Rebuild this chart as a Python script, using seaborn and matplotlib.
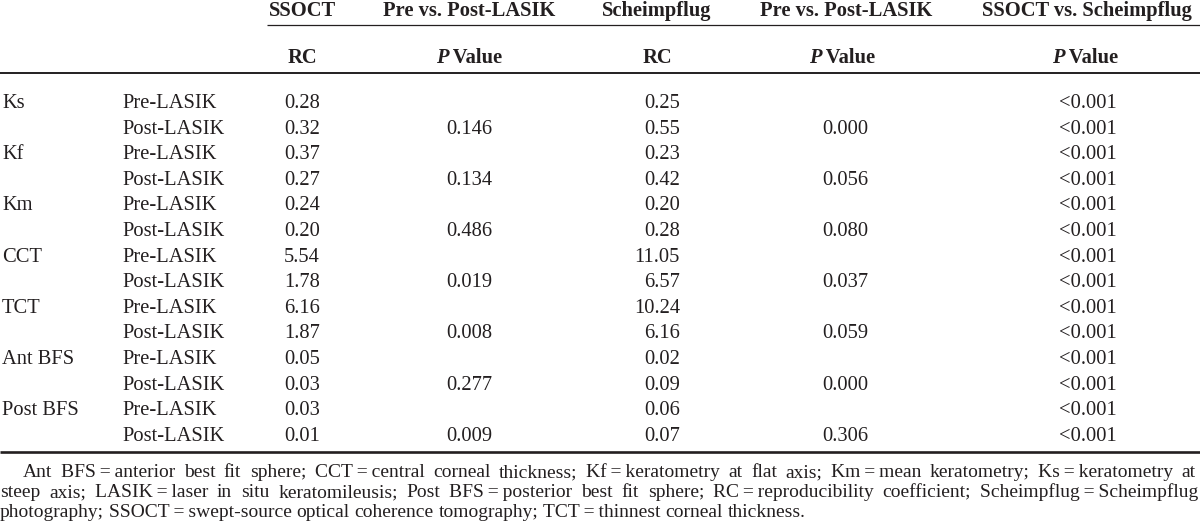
import matplotlib
matplotlib.use("Agg")
import matplotlib.pyplot as plt
import seaborn as sns
import pandas as pd

# ---------------- data ----------------
parameters = ["Ks", "Kf", "Km", "CCT", "TCT", "Ant BFS", "Post BFS"]
states = ["Pre-LASIK", "Post-LASIK"]
ssoct_rc = [0.28, 0.32, 0.37, 0.27, 0.24, 0.20, 5.54, 1.78, 6.16, 1.87, 0.05, 0.03, 0.03, 0.01]
ssoct_p = ["0.146", "0.134", "0.486", "0.019", "0.008", "0.277", "0.009"]
scheim_rc = [0.25, 0.55, 0.23, 0.42, 0.20, 0.28, 11.05, 6.57, 10.24, 6.16, 0.02, 0.09, 0.06, 0.07]
scheim_p = ["0.000", "0.056", "0.080", "0.037", "0.059", "0.000", "0.306"]
compare_p = ["<0.001", "<0.001", "<0.001", "<0.001", "<0.001", "<0.001", "<0.001",
             "<0.001", "<0.001", "<0.001", "<0.001", "<0.001", "<0.001", "<0.001"]
header_top = ["SSOCT", "Pre vs. Post-LASIK", "Scheimpflug", "Pre vs. Post-LASIK", "SSOCT vs. Scheimpflug"]
header_sub = ["RC", "P Value", "RC", "P Value", "P Value"]
footnote = [
    "Ant BFS\u2009=\u2009anterior best fit sphere; CCT\u2009=\u2009central corneal thickness; "
    "Kf\u2009=\u2009keratometry at flat axis; Km\u2009=\u2009mean keratometry; Ks\u2009=\u2009keratometry at",
    "steep axis; LASIK\u2009=\u2009laser in situ keratomileusis; Post BFS\u2009=\u2009posterior best fit sphere; "
    "RC\u2009=\u2009reproducibility coefficient; Scheimpflug\u2009=\u2009Scheimpflug",
    "photography; SSOCT\u2009=\u2009swept-source optical coherence tomography; TCT\u2009=\u2009thinnest corneal thickness.",
]

rows = []
for i, p in enumerate(parameters):
    for j, s in enumerate(states):
        k = 2 * i + j
        rows.append({
            "param": p if j == 0 else "",
            "state": s,
            "ssoct_rc": f"{ssoct_rc[k]:.2f}",
            "ssoct_p": ssoct_p[i] if j == 1 else "",
            "scheim_rc": f"{scheim_rc[k]:.2f}",
            "scheim_p": scheim_p[i] if j == 1 else "",
            "cmp_p": compare_p[k],
        })
df = pd.DataFrame(rows)

# ---------------- style ----------------
sns.set_theme(style="white")
plt.rcParams["font.family"] = ["Liberation Serif", "DejaVu Serif"]
INK = "#231f20"
PX = 72.0 / 100.0          # points per pixel at dpi=100
FS = 20.5 * PX             # table font size
FS_NOTE = 19.5 * PX        # footnote font size

fig = plt.figure(figsize=(12, 5.31), dpi=100)
ax = fig.add_axes([0, 0, 1, 1])
ax.set_xlim(0, 1200)
ax.set_ylim(531, 0)
ax.axis("off")
renderer = fig.canvas.get_renderer()


def width_of(s, **kw):
    t = ax.text(0, 0, s, **kw)
    w = t.get_window_extent(renderer).width
    t.remove()
    return w


def segments_centered(xc, y, segs, fs):
    total = sum(width_of(s, fontsize=fs, **kw) for s, kw in segs)
    x = xc - total / 2
    for s, kw in segs:
        ax.text(x, y, s, fontsize=fs, ha="left", va="baseline", color=INK, **kw)
        x += width_of(s, fontsize=fs, **kw)


col_centers = [302, 469, 657, 846, 1087]
sub_centers = [302, 469, 657, 842, 1085]
y_head1, y_head2 = 16, 63
y_row0, row_step = 108, 25.6

bold = {"fontweight": "bold"}
bolditalic = {"fontweight": "bold", "fontstyle": "italic"}
for xc, h in zip(col_centers, header_top):
    ax.text(xc, y_head1, h, fontsize=FS, ha="center", va="baseline", color=INK, **bold)
for xc, h in zip(sub_centers, header_sub):
    if h.startswith("P "):
        segments_centered(xc, y_head2, [("P", bolditalic), (" Value", bold)], FS)
    else:
        ax.text(xc, y_head2, h, fontsize=FS, ha="center", va="baseline", color=INK, **bold)

# rules
ax.plot([267, 1200], [25, 25], color=INK, lw=0.9, solid_capstyle="butt")
ax.plot([0, 1200], [72.5, 72.5], color=INK, lw=1.4, solid_capstyle="butt")
ax.plot([0, 1200], [452, 452], color=INK, lw=1.9, solid_capstyle="butt")

# body
for r, row in df.iterrows():
    y = y_row0 + r * row_step
    kw = dict(fontsize=FS, va="baseline", color=INK)
    ax.text(2, y, row["param"], ha="left", **kw)
    ax.text(122, y, row["state"], ha="left", **kw)
    ax.text(320, y, row["ssoct_rc"], ha="right", **kw)
    ax.text(469, y, row["ssoct_p"], ha="center", **kw)
    ax.text(680, y, row["scheim_rc"], ha="right", **kw)
    ax.text(845, y, row["scheim_p"], ha="center", **kw)
    ax.text(1088, y, row["cmp_p"], ha="center", **kw)


# footnote (justified, measured on whole-line prefixes)
def justified(line, x0, x1, y, fs, justify=True):
    words = line.split(" ")
    natural = width_of(line, fontsize=fs)
    extra = (x1 - x0 - natural) / (len(words) - 1) if justify else 0.0
    for i, w in enumerate(words):
        prefix = " ".join(words[:i]) + (" " if i else "")
        x = x0 + (width_of(prefix + "x", fontsize=fs) - width_of("x", fontsize=fs) if i else 0) + i * extra
        ax.text(x, y, w, fontsize=fs, ha="left", va="baseline", color=INK)


justified(footnote[0], 23, 1196, 477, FS_NOTE)
justified(footnote[1], 0, 1198, 497, FS_NOTE)
justified(footnote[2], 0, 1198, 517, FS_NOTE, justify=False)

fig.savefig("out.png", dpi=100, facecolor="white")
